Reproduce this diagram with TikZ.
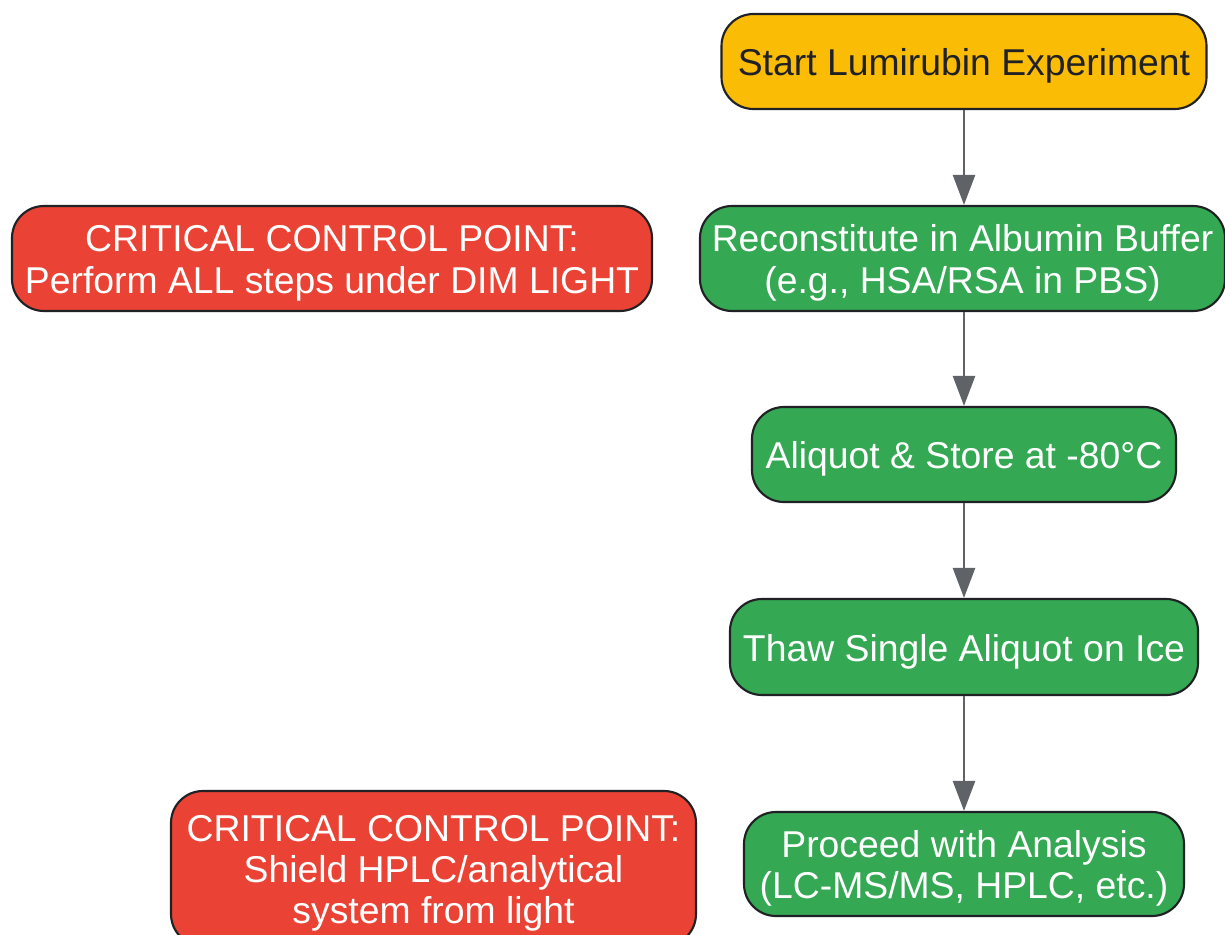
\documentclass[tikz,border=0pt]{standalone}
\usepackage{fontspec}
\setmainfont{Liberation Sans}
\usetikzlibrary{arrows.meta}

\definecolor{startyellow}{HTML}{FBBC05}
\definecolor{stepgreen}{HTML}{34A853}
\definecolor{warnred}{HTML}{EA4335}
\definecolor{edgegray}{HTML}{5F6368}
\definecolor{inkdark}{HTML}{202124}

\begin{document}
\begin{tikzpicture}[x = 0.75pt, y = -0.75pt,
		box/.style = {draw = inkdark, line width = 1.6pt, rounded corners = 24pt, inner sep = 0pt, align = center,
			font = \fontsize{28}{31.1}\selectfont, text height = 21pt, text depth = 0pt},
		twolines/.style = {text height = 52.1pt},
		threelines/.style = {text height = 83.2pt},
		startbox/.style = {box, fill = startyellow, text = inkdark},
		stepbox/.style = {box, fill = stepgreen, text = white},
		warnbox/.style = {box, fill = warnred, text = white},
		flow/.style = {draw = edgegray, line width = 1.9pt, -{Triangle[width = 16.5pt, length = 22.5pt]}}]
	\useasboundingbox (0, 0) rectangle (1225, 935);
	\node (start) at (964, 61.5) [startbox, minimum width = 363.75pt, minimum height = 71.25pt] {Start Lumirubin Experiment};
	\node (recon) at (962.5, 258.5) [stepbox, twolines, minimum width = 393.75pt, minimum height = 78.75pt] {Reconstitute in Albumin Buffer\\(e.g., HSA/RSA in PBS)};
	\node (aliquot) at (964, 454.5) [stepbox, minimum width = 318pt, minimum height = 71.25pt] {Aliquot \& Store at -80°C};
	\node (thaw) at (964, 647) [stepbox, minimum width = 351pt, minimum height = 72pt] {Thaw Single Aliquot on Ice};
	\node (analysis) at (964, 864) [stepbox, twolines, minimum width = 330pt, minimum height = 78pt] {Proceed with Analysis\\(LC-MS/MS, HPLC, etc.)};
	\node (dimlight) at (332, 258.5) [warnbox, twolines, minimum width = 480pt, minimum height = 78.75pt] {CRITICAL CONTROL POINT:\\Perform ALL steps under DIM LIGHT};
	\node (shield) at (433.5, 868.5) [warnbox, threelines, minimum width = 393.75pt, minimum height = 116.25pt] {CRITICAL CONTROL POINT:\\Shield HPLC/analytical\\system from light};
	\foreach \a/\b in {start/recon, aliquot/thaw, thaw/analysis}
		\draw[flow] (\a.south) -- (\a.south |- \b.north);
	\draw[flow] (recon.south -| start.south) -- (aliquot.north);
\end{tikzpicture}
\end{document}
